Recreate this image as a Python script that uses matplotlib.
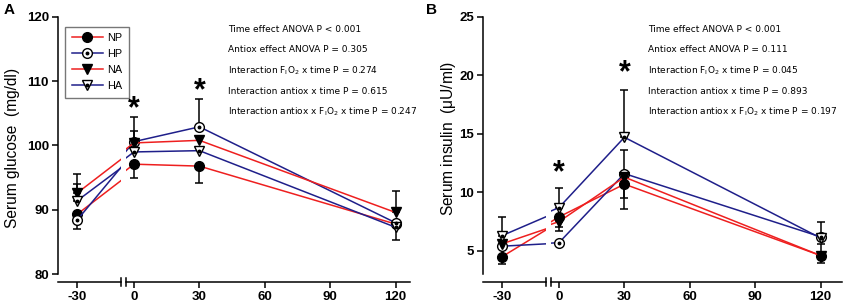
import numpy as np
import matplotlib.pyplot as plt

times = [-30, 0, 30, 120]
groups = ["NP", "HP", "NA", "HA"]

# panel A: serum glucose (mg/dl)
glu_np = [89.3, 97.1, 96.8, 87.8]
glu_hp = [88.4, 100.6, 102.9, 88.0]
glu_na = [92.6, 100.4, 100.8, 89.6]
glu_ha = [91.4, 99.0, 99.2, 87.3]
# one-sided error bars: + means drawn upward, - downward, 0 none
glu_np_err = [0, -2.1, -2.7, 0]
glu_hp_err = [-1.3, 1.6, 4.3, 0]
glu_na_err = [3.0, 4.0, 0, 3.3]
glu_ha_err = [2.6, 0, 0, -1.9]

# panel B: serum insulin (uU/ml)
ins_np = [4.5, 7.9, 10.7, 4.6]
ins_hp = [5.4, 5.7, 11.6, 6.2]
ins_na = [5.6, 7.5, 11.3, 4.6]
ins_ha = [6.3, 8.7, 14.7, 6.1]
ins_np_err = [-0.6, -1.2, -2.1, -0.6]
ins_hp_err = [0, 0, 2.0, 0]
ins_na_err = [0, -0.5, -1.8, 1.0]
ins_ha_err = [1.6, 1.65, 4.0, 1.35]

glu_stats = ["Time effect ANOVA P < 0.001",
             "Antiox effect ANOVA P = 0.305",
             r"Interaction F$_\mathregular{I}$O$_\mathregular{2}$ x time P = 0.274",
             "Interaction antiox x time P = 0.615",
             r"Interaction antiox x F$_\mathregular{I}$O$_\mathregular{2}$ x time P = 0.247"]
ins_stats = ["Time effect ANOVA P < 0.001",
             "Antiox effect ANOVA P = 0.111",
             r"Interaction F$_\mathregular{I}$O$_\mathregular{2}$ x time P = 0.045",
             "Interaction antiox x time P = 0.893",
             r"Interaction antiox x F$_\mathregular{I}$O$_\mathregular{2}$ x time P = 0.197"]

RED = "#ee1f1f"
BLUE = "#1f1f8a"
styles = {
    "NP": dict(color=RED, marker="o", mfc="black", dot=False, ms=7),
    "HP": dict(color=BLUE, marker="o", mfc="white", dot=True, ms=7),
    "NA": dict(color=RED, marker="v", mfc="black", dot=False, ms=7.5),
    "HA": dict(color=BLUE, marker="v", mfc="white", dot=True, ms=7.5),
}

plt.rcParams['font.family'] = ['Liberation Sans', 'DejaVu Sans']
plt.rcParams['axes.unicode_minus'] = False

W, H = 846, 307
fig = plt.figure(figsize=(W / 100, H / 100), dpi=100)
bot = 1 - 274.3 / H
hgt = (274.3 - 16.7) / H
hpx = 274.3 - 16.7
off_px = 8


def draw_panel(lx, rx, brk, ylim, yticks, vals, errs, ylabel, ylab_xy,
               letter, letter_x, stats, stats_x, stars, legend=False):
    scale = 65.4 / 30  # px per minute
    zero_px = brk + 11
    axl = fig.add_axes([lx / W, bot, (brk - 2 - lx) / W, hgt])
    axr = fig.add_axes([(brk + 3) / W, bot, (rx - brk - 3) / W, hgt])
    m30 = zero_px - 57
    axl.set_xlim(-30 - (m30 - lx) / scale, -30 + (brk - 2 - m30) / scale)
    axr.set_xlim(-(zero_px - brk - 3) / scale, 120 + (rx - (zero_px + 120 * scale)) / scale)

    handles = []
    for ax in (axl, axr):
        ax.set_ylim(*ylim)
        ax.patch.set_visible(False)
        for s in ("top", "right"):
            ax.spines[s].set_visible(False)
        ax.spines["bottom"].set_position(("outward", off_px * 0.72))
        ax.spines["bottom"].set_linewidth(1.1)
        ax.spines["left"].set_linewidth(1.1)
        ax.tick_params(direction="out", length=4, width=1.1, labelsize=9.5, pad=2.5)
        for g in groups:
            st = styles[g]
            y = vals[g]
            ln, = ax.plot(times, y, color=st["color"], lw=1.1, marker=st["marker"],
                          ms=st["ms"], mfc=st["mfc"], mec="black", mew=1.0, zorder=4)
            h = ln
            if st["dot"]:
                dt, = ax.plot(times, y, ls="none", marker="o", ms=1.8, color="black", zorder=5)
                h = (ln, dt)
            if ax is axr:
                handles.append(h)
            for t, v, e in zip(times, y, errs[g]):
                if e != 0:
                    ax.errorbar([t], [v], yerr=[[max(-e, 0)], [max(e, 0)]], fmt="none",
                                ecolor="black", elinewidth=1.1, capsize=3.2, capthick=1.1,
                                zorder=3)
    axl.set_xticks([-30])
    axr.set_xticks([0, 30, 60, 90, 120])
    axl.set_yticks(yticks)
    axr.spines["left"].set_visible(False)
    axr.tick_params(axis="y", left=False, labelleft=False)
    for lab in axl.get_xticklabels() + axl.get_yticklabels() + axr.get_xticklabels():
        lab.set_fontweight("bold")

    # break marks on the x axis
    yb = [(-off_px - 4) / hpx, (-off_px + 4) / hpx]
    axl.plot([1, 1], yb, transform=axl.transAxes, color="black", lw=1.1, clip_on=False)
    axr.plot([0, 0], yb, transform=axr.transAxes, color="black", lw=1.1, clip_on=False)

    fig.text(ylab_xy[0] / W, 1 - ylab_xy[1] / H, ylabel, rotation=90, ha="center",
             va="center", fontsize=11.2)
    fig.text(letter_x / W, 1 - 10 / H, letter, ha="left", va="center", fontsize=11,
             fontweight="bold")
    for i, s in enumerate(stats):
        fig.text(stats_x / W, 1 - (29 + 20.8 * i) / H, s, ha="left", va="center",
                 fontsize=6.5, family="DejaVu Sans")
    for t, yv in stars:
        axr.text(t, yv, "*", ha="center", va="center", fontsize=22, fontweight="bold")

    if legend:
        axl.legend(handles, groups, loc="upper left",
                   bbox_to_anchor=((65 - lx) / (brk - 2 - lx), 1 - 10 / hpx),
                   borderaxespad=0, fontsize=7.8, frameon=True, fancybox=False,
                   edgecolor="#555555", handlelength=2.9, borderpad=0.6,
                   labelspacing=0.55, handletextpad=0.4)


draw_panel(58, 410, 123, (80, 120), [80, 90, 100, 110, 120],
           {"NP": glu_np, "HP": glu_hp, "NA": glu_na, "HA": glu_ha},
           {"NP": glu_np_err, "HP": glu_hp_err, "NA": glu_na_err, "HA": glu_ha_err},
           "Serum glucose  (mg/dl)", (13, 148), "A", 4, glu_stats, 228,
           [(0, 105.6), (30, 108.5)], legend=True)
draw_panel(483, 842, 548, (3, 25), [5, 10, 15, 20, 25],
           {"NP": ins_np, "HP": ins_hp, "NA": ins_na, "HA": ins_ha},
           {"NP": ins_np_err, "HP": ins_hp_err, "NA": ins_na_err, "HA": ins_ha_err},
           r"Serum insulin  ($\mathregular{\mu}$U/ml)", (448, 139), "B", 426, ins_stats, 648,
           [(0, 11.6), (30, 20.2)])

fig.savefig("out.png", dpi=100)
